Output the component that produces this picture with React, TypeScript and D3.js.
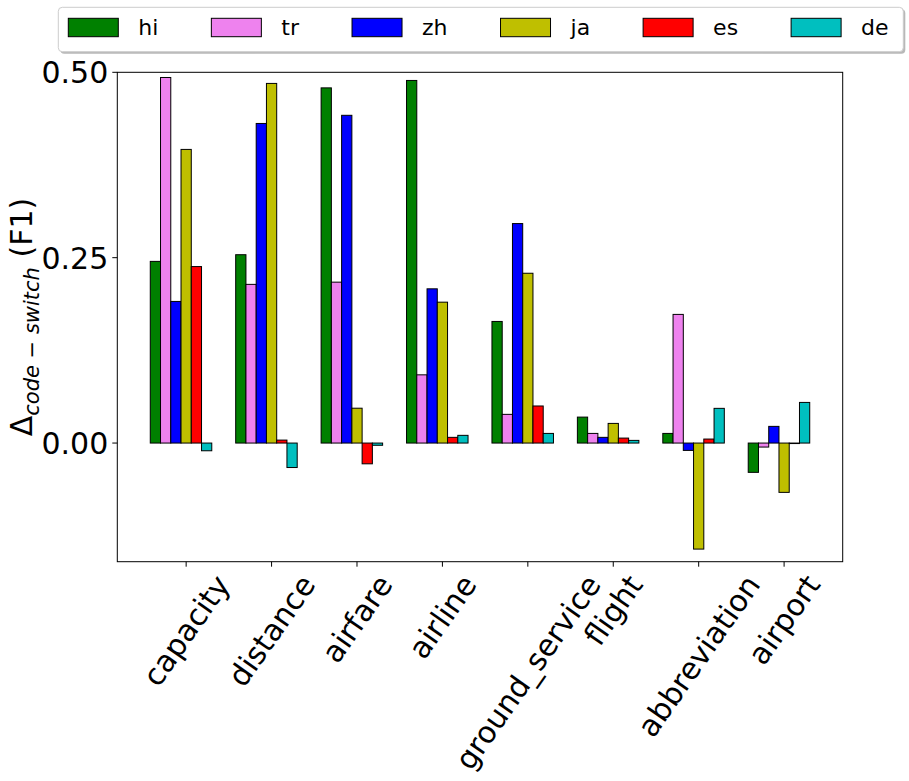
import * as d3 from 'd3';
import React from 'react';

// slot categories on the x axis
const categories = ['capacity', 'distance', 'airfare', 'airline', 'ground_service', 'flight', 'abbreviation', 'airport'];

// delta F1 per language
const hi = [0.245, 0.254, 0.479, 0.489, 0.164, 0.035, 0.013, -0.0395];
const tr = [0.493, 0.214, 0.217, 0.092, 0.0387, 0.013, 0.1735, -0.0054];
const zh = [0.191, 0.431, 0.442, 0.208, 0.296, 0.0077, -0.0099, 0.0225];
const ja = [0.396, 0.485, 0.047, 0.19, 0.229, 0.0265, -0.143, -0.0665];
const es = [0.238, 0.004, -0.028, 0.0077, 0.05, 0.0067, 0.0054, 0];
const de = [-0.0104, -0.033, -0.003, 0.0104, 0.013, 0.0036, 0.0468, 0.0548];

const languages = ['hi', 'tr', 'zh', 'ja', 'es', 'de'];
const series = [hi, tr, zh, ja, es, de];
const colors = ['#008000', '#ee82ee', '#0000ff', '#bfbf00', '#ff0000', '#00bfbf'];

const yTicks = [0, 0.25, 0.5];

const params = {
    width: 909,
    height: 781,
    left: 117.3,
    right: 842.7,
    top: 72.3,
    bottom: 561.7,
    barWidth: 0.12,
    font: 'DejaVu Sans',
    tickFont: 30,
    legendFont: 22,
    rotation: 55,
};

let canvas: HTMLCanvasElement | null = null;
const textWidth = (text: string, size: number) => {
    if (!canvas) canvas = document.createElement('canvas');
    const ctx = canvas.getContext('2d')!;
    ctx.font = `${size}px "${params.font}"`;
    return ctx.measureText(text).width;
};

export default function App() {
    const x = d3.scaleLinear().domain([-0.806, 7.686]).range([params.left, params.right]);
    const y = d3.scaleLinear().domain([-0.16, 0.5]).range([params.bottom, params.top]);
    const bw = x(params.barWidth) - x(0);

    const rad = params.rotation * Math.PI / 180;
    const lineH = 1.164 * params.tickFont;
    const labelTop = params.bottom + 7;

    // legend columns: patch + gap + text + column spacing
    const legendStart = 68.3;
    const legendX: number[] = [];
    languages.reduce((acc, l) => {
        legendX.push(acc);
        return acc + 50 + 20 + textWidth(l, params.legendFont) + 53;
    }, legendStart);

    return (
        <svg width={params.width} height={params.height}
            style={{ position: 'absolute', left: 0, top: 0, background: '#fff' }}
            fontFamily={params.font}>
            {/* bars */}
            {series.map((vals, k) => (
                <g key={languages[k]}>
                    {vals.map((v, i) => {
                        const cx = i + (k - 3) * params.barWidth;
                        const y0 = y(Math.max(0, v)), y1 = y(Math.min(0, v));
                        return <rect key={i} x={x(cx) - bw / 2} y={y0} width={bw}
                            height={Math.max(0.5, y1 - y0)}
                            fill={colors[k]} stroke="#000" strokeWidth={1} />;
                    })}
                </g>
            ))}

            {/* frame */}
            <rect x={params.left} y={params.top} width={params.right - params.left}
                height={params.bottom - params.top} fill="none" stroke="#000" strokeWidth={1} />

            {/* y axis */}
            {yTicks.map(t => (
                <g key={t}>
                    <line x1={params.left - 5} x2={params.left} y1={y(t)} y2={y(t)} stroke="#000" />
                    <text x={108.3} y={y(t)} dy={0.364 * params.tickFont} textAnchor="end"
                        fontSize={params.tickFont}>{d3.format('.2f')(t)}</text>
                </g>
            ))}
            <text transform={`translate(32,${(params.top + params.bottom) / 2}) rotate(-90)`}
                textAnchor="middle" fontSize={30}>
                <tspan>Δ</tspan>
                <tspan fontSize={21} fontStyle="italic" dy={7}>code − switch</tspan>
                <tspan dy={-7}>{'\u00a0(F1)'}</tspan>
            </text>

            {/* x axis */}
            {categories.map((c, i) => {
                const w = textWidth(c, params.tickFont);
                const bh = w * Math.sin(rad) + lineH * Math.cos(rad);
                const cx = x(i), cy = labelTop + bh / 2;
                return (
                    <g key={c}>
                        <line x1={cx} x2={cx} y1={params.bottom} y2={params.bottom + 5} stroke="#000" />
                        <text transform={`translate(${cx},${cy}) rotate(${-params.rotation})`}
                            textAnchor="middle" dy="0.35em" fontSize={params.tickFont}>{c}</text>
                    </g>
                );
            })}

            {/* legend */}
            <rect x={60.3} y={9.3} width={845} height={44.4} rx={4} fill="#888" opacity={0.6} />
            <rect x={58.3} y={7.3} width={845} height={44.4} rx={4} fill="#fff" stroke="#ccc" />
            {languages.map((l, k) => (
                <g key={l}>
                    <rect x={legendX[k]} y={18.3} width={50} height={18.4} fill={colors[k]} stroke="#000" />
                    <text x={legendX[k] + 70} y={27.5} dy={0.36 * params.legendFont}
                        fontSize={params.legendFont}>{l}</text>
                </g>
            ))}
        </svg>
    );
}
